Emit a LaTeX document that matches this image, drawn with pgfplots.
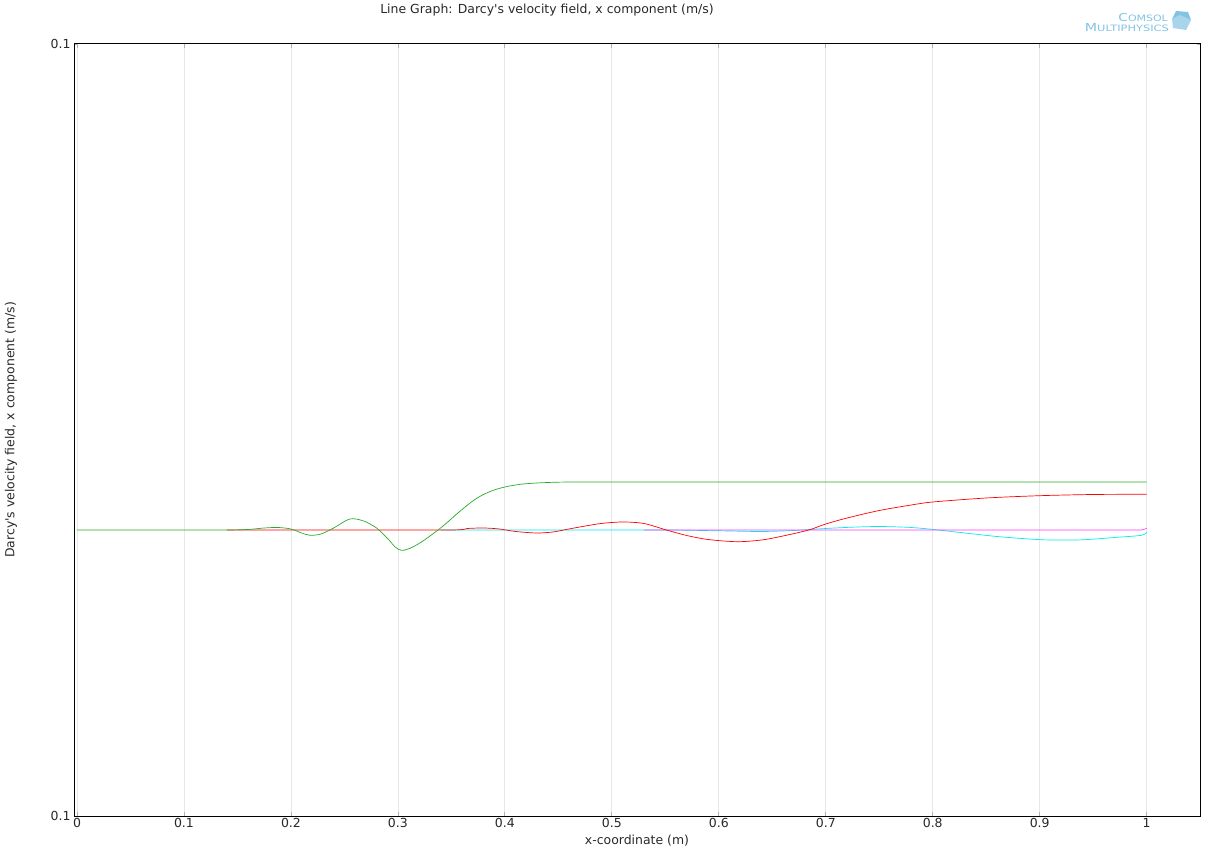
\documentclass[border=0pt]{standalone}
\usepackage{fontspec}
\setmainfont{DejaVu Sans}
\usepackage{pgfplots}
\pgfplotsset{compat=1.18}
\definecolor{cgreen}{RGB}{40,170,40}
\definecolor{ccyan}{RGB}{0,235,240}
\definecolor{cmag}{RGB}{255,60,255}
\definecolor{ctext}{RGB}{40,40,40}
\definecolor{logoblue}{RGB}{130,195,228}
\newcommand{\q}{\textquotesingle}
\begin{document}
\begin{tikzpicture}
\useasboundingbox (-74bp,-41bp) rectangle (1138bp,816bp);
\begin{axis}[
  at={(0,0)}, anchor=south west,
  scale only axis,
  width=1126.7bp, height=772bp,
  xmin=-0.0028, xmax=1.0505,
  ymin=-286, ymax=486,
  xtick={0,0.1,...,1.0},
  xticklabels={0,0.1,0.2,0.3,0.4,0.5,0.6,0.7,0.8,0.9,1},
  ytick={-286,486},
  yticklabels={0.1,0.1},
  tick align=inside,
  major tick length=4bp,
  tick style={gray!60, line width=0.8pt},
  xmajorgrids,
  grid style={gray!18, line width=0.8pt},
  axis line style={black, line width=1pt},
  ticklabel style={font=\fontsize{12.5}{14}\selectfont, text=ctext},
  /pgf/number format/assume math mode=true,
  xticklabel style={yshift=1bp},
  xlabel={x-coordinate (m)},
  ylabel={Darcy\q s velocity field, x component (m/s)},
  label style={font=\fontsize{12.5}{14}\selectfont, text=ctext},
  xlabel style={at={(axis description cs:0.4997,-0.0324)}, anchor=center},
  ylabel style={at={(axis description cs:-0.0559,0.5)}, anchor=center},
  clip=false,
]
% cyan
\addplot[ccyan, line width=0.7pt, smooth] coordinates {
(0.34,0) (0.45,0) (0.55,0) (0.60,-0.8) (0.64,-1.5) (0.67,-0.5) (0.70,1.5) (0.725,2.8) (0.75,3.5) (0.78,2.5) (0.805,0) (0.83,-3) (0.86,-6.5) (0.89,-9) (0.91,-10) (0.94,-9.8) (0.97,-7.5) (0.995,-5.3) (1.0,-2)
};
% magenta
\addplot[cmag, line width=0.7pt] coordinates {
(0.53,0) (0.995,0) (1.0,1.5)
};
% red
\addplot[red, line width=0.7pt, smooth] coordinates {
(0.14,0) (0.25,0) (0.35,0) (0.365,1.5) (0.38,2) (0.395,1) (0.41,-1.5) (0.43,-3) (0.445,-2) (0.455,0) (0.47,3) (0.49,6.5) (0.51,8) (0.53,6.5) (0.551,0) (0.57,-5.5) (0.59,-9.5) (0.617,-11.7) (0.64,-10) (0.66,-6) (0.684,0) (0.70,6) (0.72,12) (0.75,19.5) (0.78,25) (0.80,28) (0.85,32) (0.90,34.3) (0.95,35.5) (1.0,35.7)
};
% green
\addplot[cgreen, line width=0.7pt, smooth] coordinates {
(0,0) (0.10,0) (0.14,0) (0.16,0.5) (0.175,2) (0.188,2.5) (0.20,1) (0.21,-3) (0.218,-5.3) (0.228,-4) (0.24,2) (0.255,11) (0.268,9) (0.28,2) (0.29,-8) (0.2975,-17) (0.3035,-20.4) (0.312,-18) (0.322,-12) (0.33,-6) (0.3375,0) (0.345,6.5) (0.355,16) (0.364,24) (0.372,30.5) (0.38,35.5) (0.39,40) (0.40,43) (0.41,45) (0.42,46.3) (0.44,47.5) (0.47,48) (0.6,48) (0.8,48) (1.0,48)
};
\end{axis}
% title
\node[font=\fontsize{12.5}{14}\selectfont, text=ctext] at (473bp,806bp) {Line Graph: Darcy\q s velocity field, x component (m/s)};
% COMSOL logo
\node[font=\fontsize{11}{12}\selectfont, text=logoblue, anchor=east, inner sep=0pt] at (1094bp,798bp) {\scalebox{1.25}[1]{C\scalebox{0.8}{OMSOL}}};
\node[font=\fontsize{11}{12}\selectfont, text=logoblue, anchor=east, inner sep=0pt] at (1095bp,788bp) {\scalebox{1.3}[1]{M\scalebox{0.8}{ULTIPHYSICS}}};
\fill[logoblue!70] (1099bp,788bp) -- (1112bp,786bp) -- (1117bp,796bp) -- (1106bp,801bp) -- (1098bp,797bp) -- cycle;
\fill[logoblue] (1106bp,801bp) -- (1117bp,796bp) -- (1114bp,804bp) -- (1102bp,805bp) -- (1098bp,797bp) -- cycle;
\end{tikzpicture}
\end{document}
